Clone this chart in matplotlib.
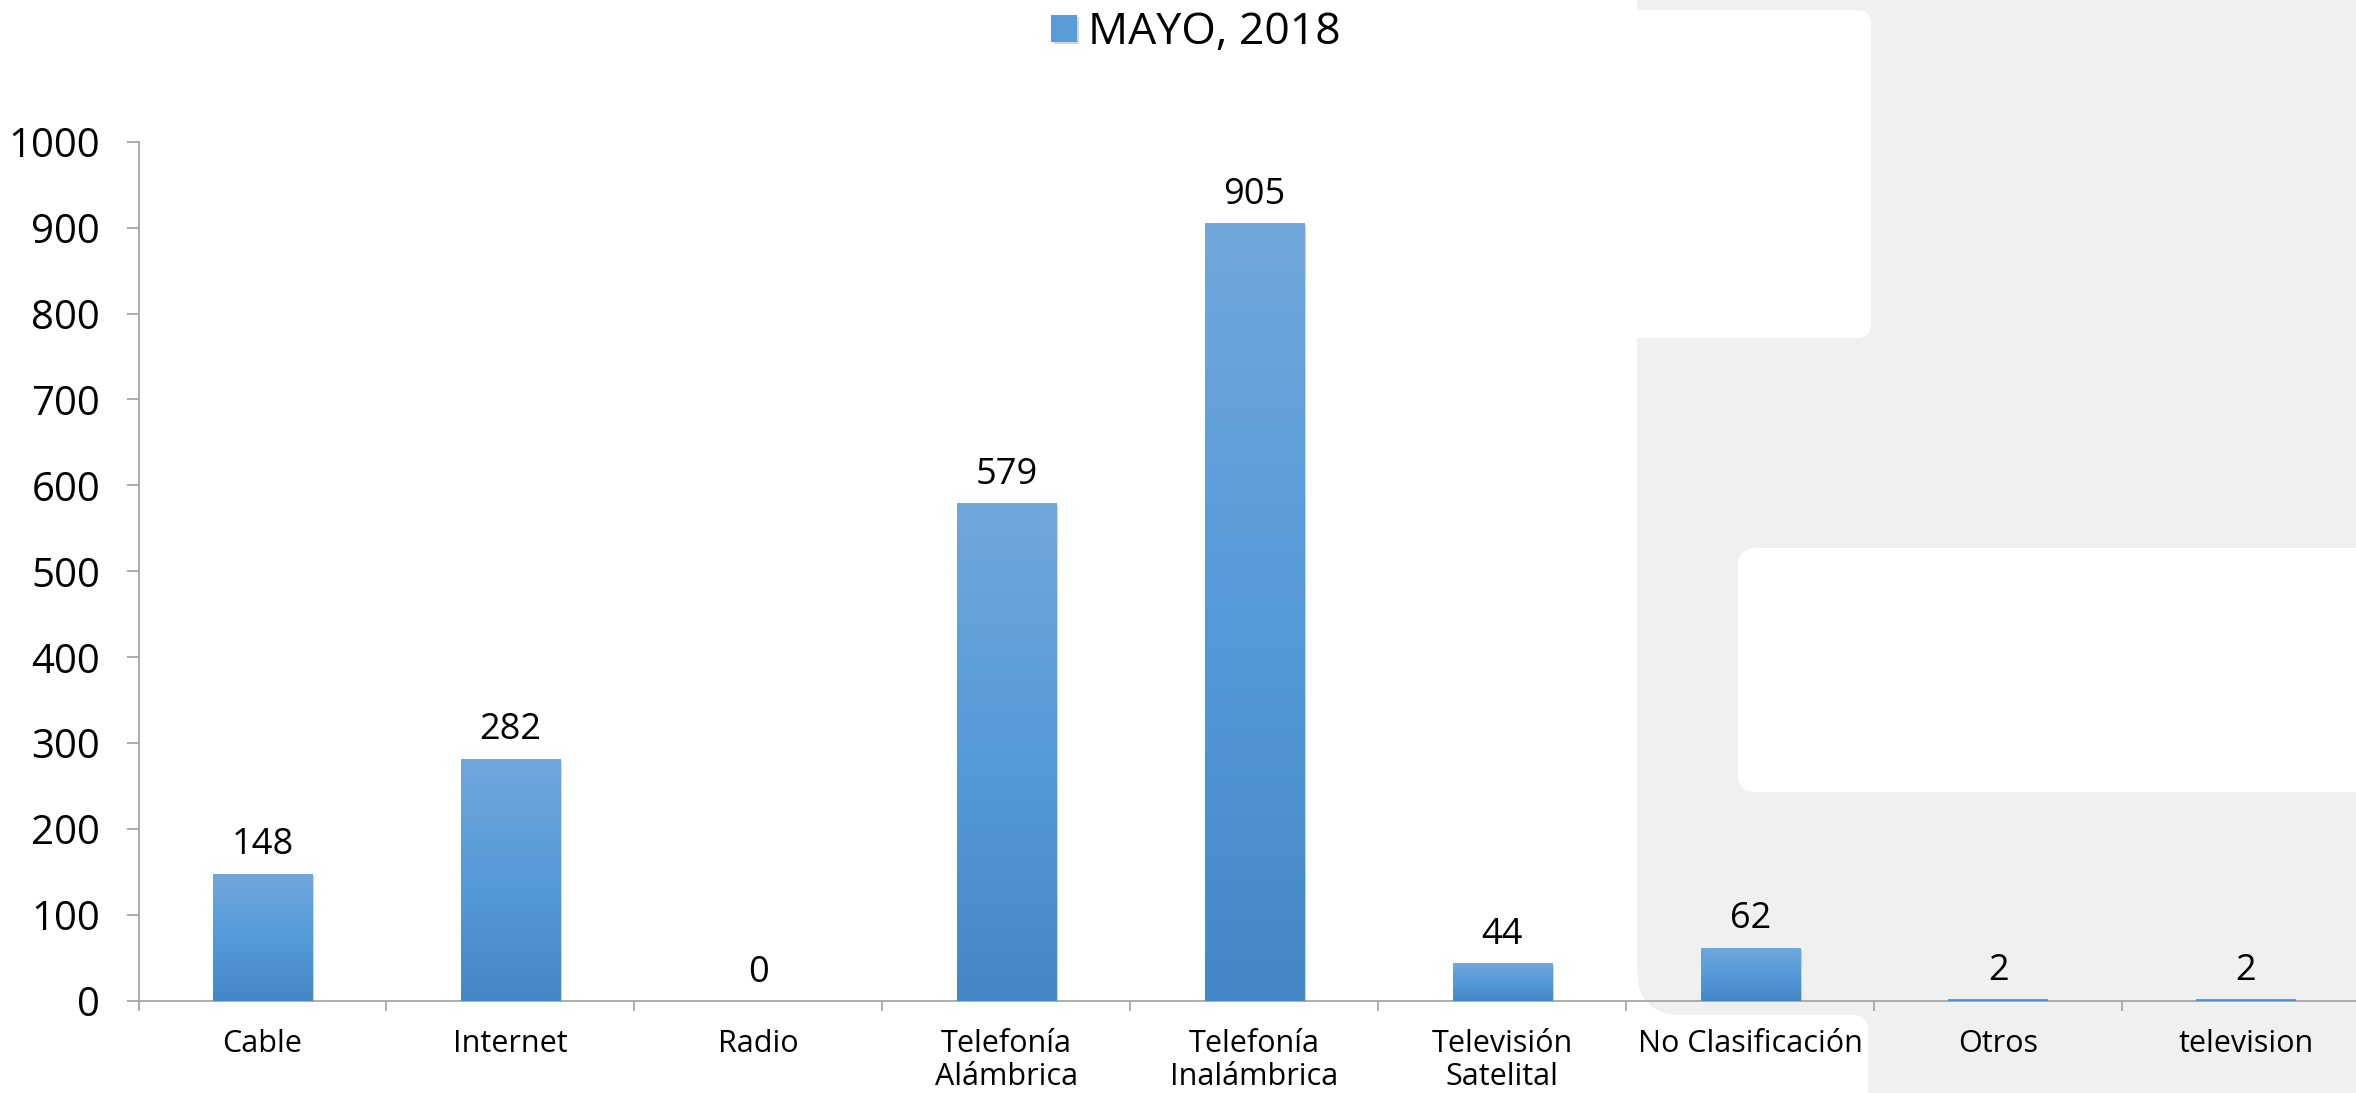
import numpy as np
import matplotlib
matplotlib.use("Agg")
import matplotlib.pyplot as plt
from matplotlib.patches import FancyBboxPatch, Rectangle
from matplotlib.transforms import IdentityTransform
import matplotlib.patheffects as pe

# ---- data ----
categories = ["Cable", "Internet", "Radio", "Telefonía\nAlámbrica", "Telefonía\nInalámbrica",
              "Televisión\nSatelital", "No Clasificación", "Otros", "television"]
values = [148, 282, 0, 579, 905, 44, 62, 2, 2]
series_name = "MAYO, 2018"
yticks = [0, 100, 200, 300, 400, 500, 600, 700, 800, 900, 1000]

W, H, DPI = 2356, 1093, 100
plt.rcParams['font.family'] = ['Open Sans', 'DejaVu Sans']

fig = plt.figure(figsize=(W / DPI, H / DPI), dpi=DPI, facecolor='white')

# ---- decorative background shape (pixel coords, y measured from top) ----
GREY = '#EFF0EF'
def box(x0, y0, x1, y1, color, r=0):
    if r > 0:
        p = FancyBboxPatch((x0, H - y1), x1 - x0, y1 - y0,
                           boxstyle=f"round,pad=0,rounding_size={r}",
                           transform=IdentityTransform(), facecolor=color,
                           edgecolor='none', zorder=-5)
    else:
        p = Rectangle((x0, H - y1), x1 - x0, y1 - y0, transform=IdentityTransform(),
                      facecolor=color, edgecolor='none', zorder=-5)
    fig.add_artist(p)

box(1637, -120, 2600, 1015, GREY, r=45)
box(1760, 950, 2600, 1300, GREY)
box(1560, 10, 1871, 338, 'white', r=14)
box(1738, 548, 2600, 792, 'white', r=18)
box(1400, 1015, 1868, 1400, 'white', r=15)

# ---- axes ----
left, right, top, bottom = 138.5, 2370, 141.7, 1001
ax = fig.add_axes([left / W, (H - bottom) / H, (right - left) / W, (bottom - top) / H])
ax.set_facecolor('none')
ax.set_xlim(-0.5, len(categories) - 0.5)
ax.set_ylim(0, 1000)

x = np.arange(len(categories))
bars = ax.bar(x, values, width=0.40, color='#5A9BD8', label=series_name, zorder=2)

# gradient fill for each bar
grad = np.linspace(0, 1, 256).reshape(-1, 1)
from matplotlib.colors import LinearSegmentedColormap
cmap = LinearSegmentedColormap.from_list('g', ['#4487C7', '#559AD9', '#72A7DC'])
for b in bars:
    h = b.get_height()
    if h <= 0:
        continue
    b.set_path_effects([pe.SimplePatchShadow(offset=(1.5, -1.5), shadow_rgbFace='#888888', alpha=0.35),
                        pe.Normal()])
    x0 = b.get_x()
    im = ax.imshow(grad, extent=(x0, x0 + b.get_width(), 0, h), origin='lower',
                   cmap=cmap, aspect='auto', zorder=3)
    im.set_clip_path(b)

ax.set_xlim(-0.5, len(categories) - 0.5)
ax.set_ylim(0, 1000)

# value labels
for xi, v in zip(x, values):
    ax.annotate(f"{v}", (xi, v), xytext=(0, 14), textcoords='offset points',
                ha='center', va='baseline', fontsize=26, color='black', zorder=5)

# spines and ticks
SP = '#A0A0A0'
for s in ['top', 'right']:
    ax.spines[s].set_visible(False)
for s in ['left', 'bottom']:
    ax.spines[s].set_color(SP)
    ax.spines[s].set_linewidth(1.2)

ax.set_yticks(yticks)
ax.set_yticklabels([str(t) for t in yticks])
ax.tick_params(axis='y', length=8.6, width=1.2, color=SP, pad=19, labelsize=29)

ax.set_xticks(x)
ax.set_xticklabels(categories, fontsize=22, linespacing=1.15)
ax.set_xticks(np.arange(-0.5, len(categories)), minor=True)
ax.tick_params(axis='x', which='major', length=0, pad=20)
ax.tick_params(axis='x', which='minor', length=7.2, width=1.2, color=SP)

# legend
leg = fig.legend(handles=[bars], labels=[series_name], loc='center',
                 bbox_to_anchor=(1196 / W, (H - 33) / H), frameon=False,
                 fontsize=32, handlelength=0.57, handleheight=0.57,
                 handletextpad=0.25, borderpad=0)

fig.savefig("out.png", dpi=DPI, facecolor='white')
